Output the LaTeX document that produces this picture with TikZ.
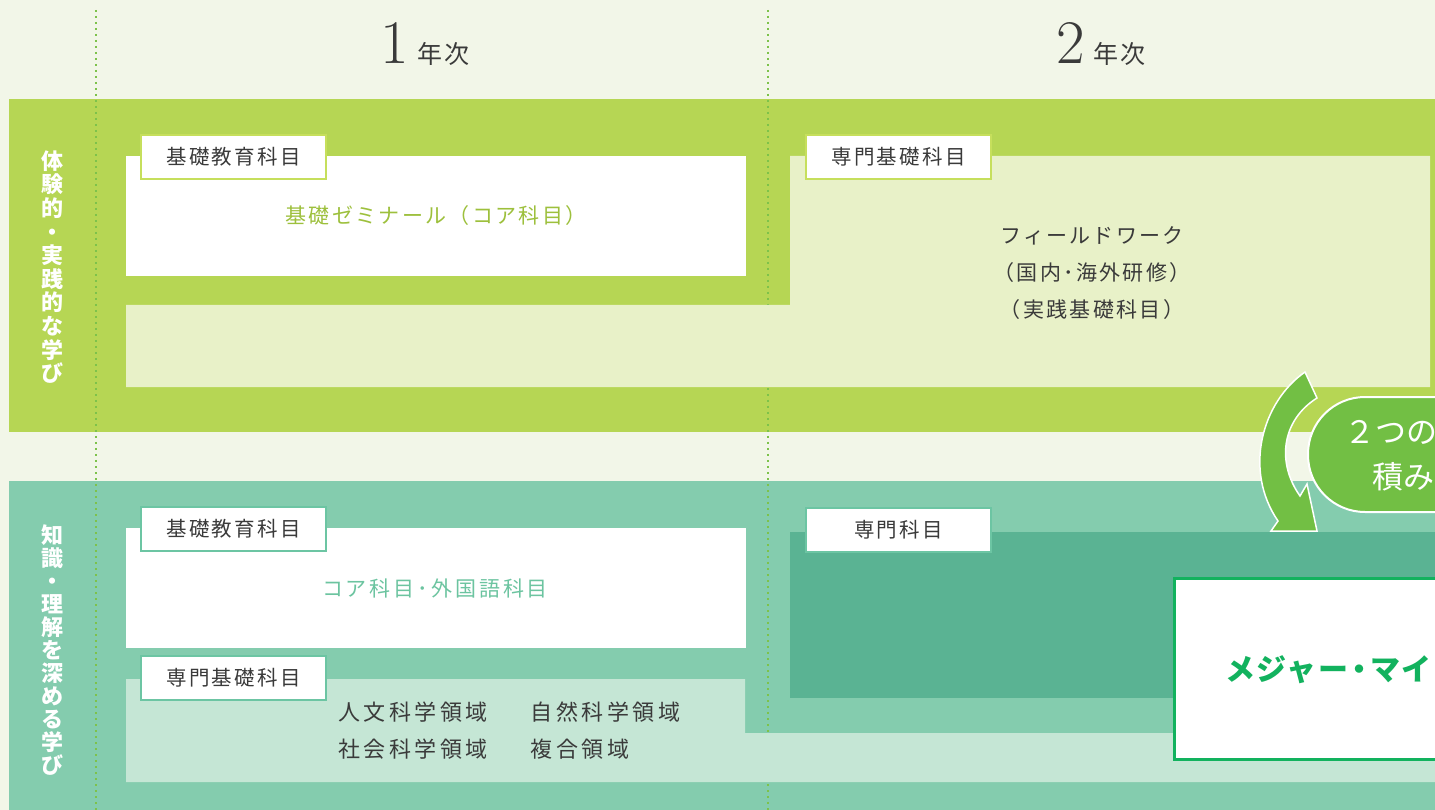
\documentclass[tikz,border=0pt]{standalone}
\usepackage{fontspec}
\newfontfamily\jp[LetterSpace=11]{Noto Sans CJK JP}
\newfontfamily\jpw[LetterSpace=16]{Noto Sans CJK JP}
\newfontfamily\jpm[LetterSpace=5]{Noto Sans CJK JP}
\newfontfamily\jpv{Noto Sans CJK JP}
\definecolor{bg}{HTML}{F2F6E8}
\definecolor{bandA}{HTML}{B6D654}
\definecolor{lightA}{HTML}{E8F1C8}
\definecolor{tabA}{HTML}{C6DF5C}
\definecolor{textA}{HTML}{9DC03C}
\definecolor{bandB}{HTML}{84CCAE}
\definecolor{lightB}{HTML}{C5E6D5}
\definecolor{darkB}{HTML}{5AB393}
\definecolor{tabB}{HTML}{6CC5A3}
\definecolor{textB}{HTML}{6CC4A0}
\definecolor{dots}{HTML}{7DC24A}
\definecolor{arrowg}{HTML}{72BF44}
\definecolor{majorg}{HTML}{12B25E}
\definecolor{ink}{HTML}{3A3A3A}
\usetikzlibrary{positioning}
\begin{document}
\begin{tikzpicture}[x=1pt,y=-1pt,every node/.style={inner sep=0pt},
  tab/.style={draw=#1,line width=1.5pt,fill=white,minimum width=185pt,minimum height=44pt,text=ink,font=\jp\fontsize{20.5}{20.5}\selectfont},
  side/.style={align=center,text=white,font=\jpv\bfseries\fontsize{22}{#1}\selectfont},
  body/.style={align=center,text=#1,font=\jp\fontsize{21}{37}\selectfont},
  year/.style={anchor=base west,text=ink}]
\useasboundingbox (0,0) rectangle (1435,810);
\clip (0,0) rectangle (1435,810);
\fill[bg] (0,0) rectangle (1435,810);
\fill[bandA] (9,99) rectangle (1440,432);
\fill[bandB] (9,481) rectangle (1440,815);
\draw[dots,line width=1.6pt,dash pattern=on 1.6pt off 4.4pt] (96,10) -- (96,810) (768,10) -- (768,810);
\fill[white] (126,156) rectangle (746,276);
\fill[lightA] (790,156) -- (1430,156) -- (1430,387) -- (126,387) -- (126,305) -- (790,305) -- cycle;
\fill[white] (126,528) rectangle (746,648);
\fill[lightB] (126,679) -- (745,679) -- (745,733) -- (1440,733) -- (1440,782) -- (126,782) -- cycle;
\fill[darkB] (790,532) rectangle (1440,698);
\node[year] (y1) at (380,64) {{\fontsize{62}{62}\selectfont 1}\hspace{9pt}{\jpv\fontsize{25}{25}\selectfont 年\hspace{2pt}次}};
\node[year] (y2) at (1056,64) {{\fontsize{62}{62}\selectfont 2}\hspace{9pt}{\jpv\fontsize{25}{25}\selectfont 年\hspace{2pt}次}};
\node[side=23.6] (sA) at (52,267) {体\\験\\的\\・\\実\\践\\的\\な\\学\\び};
\node[side=23] (sB) at (52,650) {知\\識\\・\\理\\解\\を\\深\\め\\る\\学\\び};
\node[tab=tabA] (tA1) at (233.5,157) {基礎教育科目};
\node[tab=tabA] (tA2) at (898.5,157) {専門基礎科目};
\node[tab=tabB] (tB1) at (233.5,529) {基礎教育科目};
\node[tab=tabB] (tB2) at (233.5,678) {専門基礎科目};
\node[tab=tabB] (tB3) at (898.5,530) {専門科目};
\node[body=textA] (semi) at (436,216) {基礎ゼミナール（コア科目）};
\node[body=ink] (field) at (1092,273) {フィールドワーク\\（国内･海外研修）\\（実践基礎科目）};
\node[body=textB,font=\jp\fontsize{21}{37}\selectfont\addfontfeature{LetterSpace=14}] (core) at (435,589) {コア科目･外国語科目};
\node[anchor=west,align=left,text=ink,font=\jpw\fontsize{22}{37}\selectfont] (area) at (338,731) {人文科学領域\hspace{43pt}自然科学領域\\社会科学領域\hspace{43pt}複合領域};
\draw[fill=arrowg,draw=white,line width=1.5pt] (1305,372) .. controls (1262,402) and (1243,470) .. (1278,521) -- (1271,531) -- (1317,531) -- (1307,484) -- (1300,496) .. controls (1276,462) and (1282,420) .. (1317,398) -- cycle;
\draw[fill=arrowg,draw=white,line width=2pt,rounded corners=57pt] (1308,397) rectangle (1520,512);
\node[anchor=west,text=white,font=\jpv\fontsize{31}{31}\selectfont] (twoA) at (1344,432) {２つの};
\node[anchor=west,text=white,font=\jpv\fontsize{31}{31}\selectfont] (twoB) at (1372,477) {積み};
\draw[majorg,line width=3pt,fill=white] (1174.5,578.5) rectangle (1460,759);
\node[anchor=west,text=majorg,font=\jpm\bfseries\fontsize{30}{30}\selectfont] (major) at (1225,670) {メジャー\hspace{-4pt}・\hspace{-4pt}マイ};
\end{tikzpicture}
\end{document}
